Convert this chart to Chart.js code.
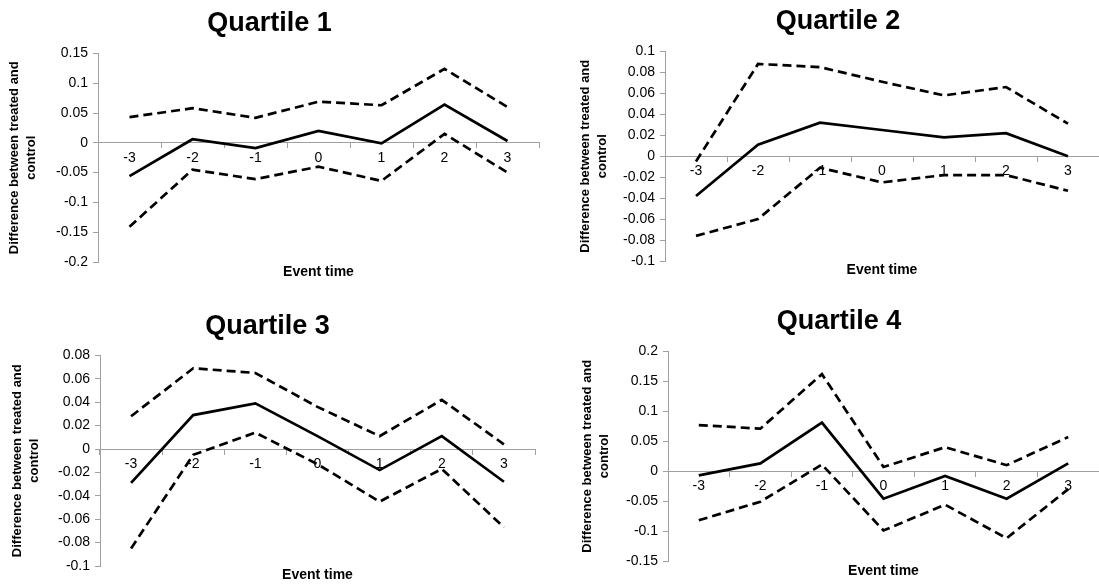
<!DOCTYPE html>
<html>
<head>
<meta charset="utf-8">
<script src="https://cdn.jsdelivr.net/npm/chart.js@4/dist/chart.umd.min.js"></script>
<style>
  body { margin: 0; background: #fff; width: 1099px; height: 588px; overflow: hidden; position: relative; }
  .panel { position: absolute; }
</style>
</head>
<body>
<div class="panel" style="left:0;top:0"><canvas id="q1" width="540" height="296"></canvas></div>
<div class="panel" style="left:577px;top:0"><canvas id="q2" width="522" height="296"></canvas></div>
<div class="panel" style="left:0;top:296px"><canvas id="q3" width="542" height="292"></canvas></div>
<div class="panel" style="left:579px;top:296px"><canvas id="q4" width="520" height="292"></canvas></div>
<script>
// ─── DATA ───
const EVENT_TIME = ['-3', '-2', '-1', '0', '1', '2', '3'];

const Q1_MEAN  = [-0.056, 0.006, -0.009, 0.020, -0.001, 0.064, 0.003];
const Q1_UPPER = [0.043, 0.058, 0.042, 0.069, 0.063, 0.124, 0.060];
const Q1_LOWER = [-0.141, -0.045, -0.061, -0.040, -0.064, 0.015, -0.050];

const Q2_MEAN  = [-0.038, 0.011, 0.032, 0.025, 0.018, 0.022, 0.000];
const Q2_UPPER = [-0.005, 0.088, 0.085, 0.071, 0.058, 0.066, 0.031];
const Q2_LOWER = [-0.076, -0.060, -0.011, -0.025, -0.018, -0.018, -0.033];

const Q3_MEAN  = [-0.029, 0.029, 0.039, 0.011, -0.018, 0.011, -0.028];
const Q3_UPPER = [0.028, 0.069, 0.065, 0.036, 0.011, 0.042, 0.004];
const Q3_LOWER = [-0.085, -0.005, 0.014, -0.013, -0.045, -0.017, -0.067];

const Q4_MEAN  = [-0.007, 0.013, 0.081, -0.046, -0.008, -0.046, 0.013];
const Q4_UPPER = [0.077, 0.071, 0.162, 0.007, 0.040, 0.010, 0.057];
const Q4_LOWER = [-0.082, -0.051, 0.011, -0.099, -0.056, -0.112, -0.030];

// y axis: [min, max, step]
const Q1_Y = [-0.2, 0.15, 0.05];
const Q2_Y = [-0.1, 0.1, 0.02];
const Q3_Y = [-0.1, 0.08, 0.02];
const Q4_Y = [-0.15, 0.2, 0.05];

const FONT = "'Liberation Sans', Arial, sans-serif";
const AXIS = '#a0a0a0';

// ── one quartile panel ──
function renderPanel(id, title, mean, upper, lower, yRange, box) {
  const ctx = document.getElementById(id).getContext('2d');
  const line = (data, dashed) => ({
    data, borderColor: '#000', backgroundColor: '#000',
    borderWidth: 2.7, borderDash: dashed ? [9, 5] : [],
    pointRadius: 0, tension: 0, fill: false,
  });
  return new Chart(ctx, {
    type: 'line',
    data: {
      labels: EVENT_TIME,
      datasets: [line(mean, false), line(upper, true), line(lower, true)],
    },
    options: {
      responsive: false, animation: false,
      layout: { padding: { left: 0, right: box.padRight, top: 0, bottom: 0 } },
      plugins: {
        legend: { display: false },
        tooltip: { enabled: false },
        title: {
          display: true, text: title, color: '#000',
          font: { family: FONT, size: 27, weight: 'bold' },
          padding: { top: box.titleTop, bottom: box.titleBottom },
        },
      },
      scales: {
        x: {
          type: 'category', position: { y: 0 }, offset: true,
          grid: { offset: true, drawOnChartArea: false, tickLength: 5, color: AXIS },
          border: { color: AXIS, width: 1 },
          ticks: { color: '#000', font: { family: FONT, size: 14 }, padding: 2, maxRotation: 0, autoSkip: false },
        },
        x2: {
          type: 'category', position: 'bottom', labels: EVENT_TIME,
          grid: { display: false, drawTicks: false }, border: { display: false },
          ticks: { display: false },
          title: {
            display: true, text: 'Event time', color: '#000',
            font: { family: FONT, size: 14, weight: 'bold' },
            padding: { top: 0, bottom: box.xTitlePad },
          },
          afterFit: s => { s.height = box.xTitleH; },
        },
        y: {
          position: 'left', min: yRange[0], max: yRange[1],
          grid: { drawOnChartArea: false, tickLength: 5, color: AXIS },
          border: { color: AXIS, width: 1 },
          ticks: {
            stepSize: yRange[2], color: '#000', font: { family: FONT, size: 14 }, padding: 5,
            callback: v => String(parseFloat(Number(v).toFixed(3))),
          },
          title: {
            display: true, text: ['Difference between treated and', 'control'], color: '#000',
            font: { family: FONT, size: 13, weight: 'bold', lineHeight: 1.3 },
            padding: { top: box.yTitlePad, bottom: 0 },
          },
          afterFit: s => { s.width = box.yWidth; },
        },
      },
    },
  });
}

renderPanel('q1', 'Quartile 1', Q1_MEAN, Q1_UPPER, Q1_LOWER, Q1_Y,
  { yWidth: 98, yTitlePad: 6, padRight: 1, titleTop: 7, titleBottom: 14, xTitleH: 34, xTitlePad: 15 });
renderPanel('q2', 'Quartile 2', Q2_MEAN, Q2_UPPER, Q2_LOWER, Q2_Y,
  { yWidth: 88, yTitlePad: 0, padRight: 0, titleTop: 5, titleBottom: 14, xTitleH: 35, xTitlePad: 17 });
renderPanel('q3', 'Quartile 3', Q3_MEAN, Q3_UPPER, Q3_LOWER, Q3_Y,
  { yWidth: 100, yTitlePad: 9, padRight: 7, titleTop: 14, titleBottom: 13, xTitleH: 22, xTitlePad: 4 });
renderPanel('q4', 'Quartile 4', Q4_MEAN, Q4_UPPER, Q4_LOWER, Q4_Y,
  { yWidth: 89, yTitlePad: 0, padRight: 0, titleTop: 9, titleBottom: 14, xTitleH: 27, xTitlePad: 8 });
</script>
</body>
</html>
